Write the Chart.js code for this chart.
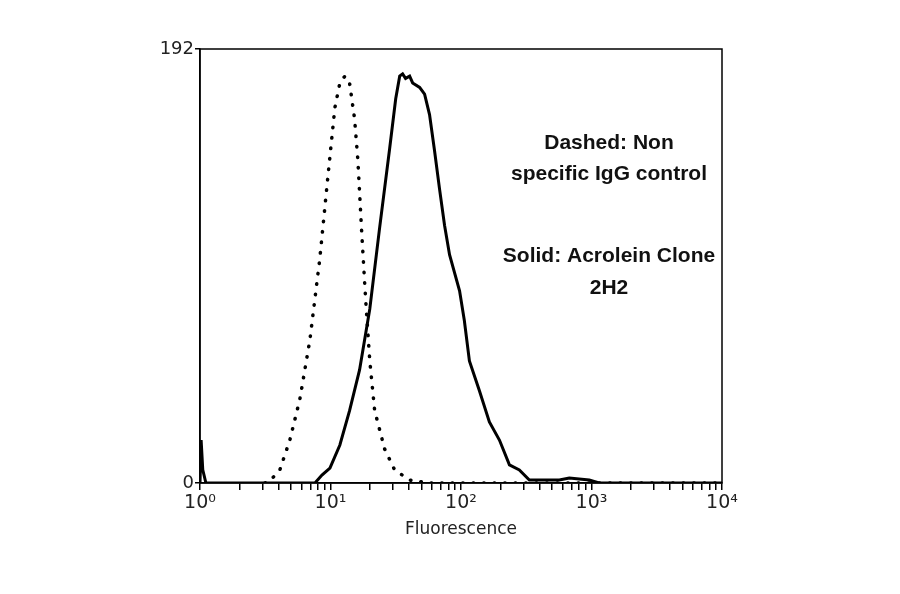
<!DOCTYPE html>
<html><head><meta charset="utf-8">
<script src="https://cdn.jsdelivr.net/npm/chart.js@4"></script>
<style>html,body{margin:0;background:#fff}#w{width:900px;height:594px}</style>
</head><body><div id="w"><canvas id="c"></canvas></div>
<script>
const solidX=[1,1.02,1.05,1.11,7.6,8.6,9.9,11.8,14.0,16.7,20.0,23.8,28.4,31.6,33.9,35.7,37.6,40.4,42.6,48.2,52.6,57.4,62.7,68.5,74.8,81.7,97.5,106,116,138,165,197,235,280,334,567,676,961,1146,10000];
const solidY=[0,19,5.8,0,0,3.5,6.6,16.8,32,50,77,113,148,170,180,181,179,180,177,175,172,163,147,130,114,101,85,72,54,41,27,19,8,5.8,1.3,1.3,2.2,1.3,0,0];
const dashX=[3.14,3.43,4.09,4.88,5.82,6.94,8.27,9.53,10.8,11.8,12.9,14.0,15.3,16.2,17.3,18.6,20.0,21.8,26.0,31.0,40.4,57.4,10000];
const dashY=[0,0.9,5.8,19,37,63,99,135,166,177,180,177,161,143,112,81,54,32,15,5.8,1.3,0,0];
const yTicks=[0,192];
const decadeLabels={1:'10⁰',10:'10¹',100:'10²',1000:'10³',10000:'10⁴'};
const notes=[['Dashed: Non',143],['specific IgG control',174],['Solid: Acrolein Clone',256],['2H2',288]];
const pts=(xs,ys)=>xs.map((x,i)=>({x,y:ys[i]}));
const frame={id:'frame',afterDraw(ch){const{ctx,chartArea:a}=ch;ctx.save();ctx.strokeStyle='#000';ctx.lineWidth=1.5;ctx.strokeRect(a.left,a.top,a.right-a.left,a.bottom-a.top);
ctx.font='bold 21px "Liberation Sans", Arial';ctx.fillStyle='#111';ctx.textAlign='center';ctx.textBaseline='middle';
notes.forEach(([t,y])=>ctx.fillText(t,609,y));ctx.restore();}};
new Chart(document.getElementById('c'),{type:'line',
data:{datasets:[
{data:pts(solidX,solidY),borderColor:'#000',borderWidth:3,pointRadius:0,tension:0},
{data:pts(dashX,dashY),borderColor:'#000',borderWidth:3.5,borderDash:[0.5,10],borderCapStyle:'round',pointRadius:0,tension:0}]},
options:{responsive:true,maintainAspectRatio:false,animation:false,
layout:{padding:{left:160,right:178,top:49,bottom:50}},
plugins:{legend:{display:false},tooltip:{enabled:false}},
scales:{
x:{type:'logarithmic',min:1,max:10000,
afterBuildTicks(s){const t=[];for(let d=1;d<10000;d*=10)for(let k=1;k<10;k++)t.push({value:k*d});t.push({value:10000});s.ticks=t;},
ticks:{autoSkip:false,maxRotation:0,padding:2,color:'#222',font:{family:'DejaVu Sans',size:19},callback:(v)=>decadeLabels[v]||''},
grid:{drawOnChartArea:false,tickLength:7,color:'#000',lineWidth:1.5},border:{color:'#000',width:1.5},
title:{display:true,text:'Fluorescence',color:'#222',font:{family:'DejaVu Sans',size:17},padding:{top:0}},
afterFit(s){s.height=61;}},
y:{min:0,max:192,afterBuildTicks(s){s.ticks=yTicks.map(v=>({value:v}));},
ticks:{padding:1,color:'#222',font:{family:'DejaVu Sans',size:18}},
grid:{drawOnChartArea:false,tickLength:5,color:'#000',lineWidth:1.5},border:{color:'#000',width:1.5},
afterFit(s){s.width=40;}}}},
plugins:[frame]});
</script></body></html>
